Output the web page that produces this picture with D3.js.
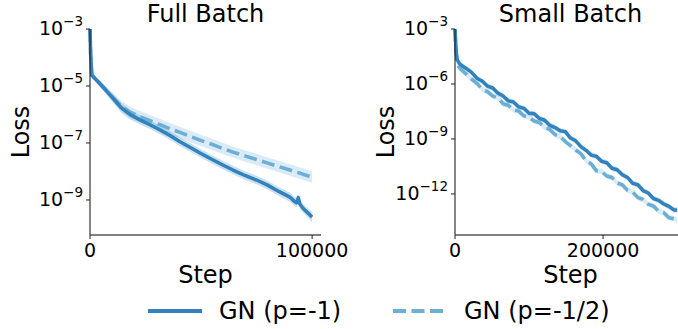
<!DOCTYPE html>
<html>
<head>
<meta charset="utf-8">
<script src="https://cdn.jsdelivr.net/npm/d3@7"></script>
<style>
  body { margin: 0; background: #fff; }
  text { font-family: "DejaVu Sans", sans-serif; fill: #000; }
</style>
</head>
<body>
<svg id="chart" width="678" height="329"></svg>
<script>
// ---- data (loss stored as log10) ----
var fullSteps = [0, 300, 800, 3000, 6000, 10000, 14000, 18000, 22500, 27000, 31500, 36000, 40500, 45000,
  49500, 55000, 60000, 64400, 70000, 75000, 79700, 85000, 90000, 92000, 93000, 93800, 94500, 96000, 98000, 100000];
var fullGN1 = [-3.0, -3.9, -4.62, -4.8, -5.05, -5.4, -5.76, -6.0, -6.19, -6.36, -6.54, -6.74, -6.96, -7.15,
  -7.35, -7.58, -7.78, -7.95, -8.15, -8.3, -8.47, -8.7, -8.9, -9.05, -9.1, -8.92, -9.15, -9.3, -9.45, -9.6];
var fullGN1Spread = [0.05, 0.1, 0.1, 0.1, 0.12, 0.15, 0.17, 0.17, 0.16, 0.15, 0.15, 0.15, 0.15, 0.15,
  0.15, 0.15, 0.15, 0.15, 0.15, 0.15, 0.15, 0.15, 0.16, 0.16, 0.16, 0.16, 0.16, 0.16, 0.17, 0.18];
var fullGNHalf = [-3.0, -3.9, -4.62, -4.8, -5.05, -5.38, -5.7, -5.92, -6.08, -6.22, -6.36, -6.5, -6.63, -6.77,
  -6.9, -7.05, -7.2, -7.32, -7.46, -7.58, -7.7, -7.83, -7.95, -8.0, -8.02, -8.04, -8.06, -8.1, -8.15, -8.2];
var fullGNHalfSpread = [0.05, 0.1, 0.1, 0.1, 0.12, 0.15, 0.18, 0.2, 0.2, 0.2, 0.2, 0.2, 0.2, 0.2,
  0.2, 0.2, 0.2, 0.2, 0.2, 0.2, 0.2, 0.2, 0.2, 0.2, 0.2, 0.2, 0.2, 0.2, 0.2, 0.2];

var smallSteps = [0, 1500, 3000, 6000, 10000, 15000, 22000, 30000, 37000, 44000, 51000, 58000, 65000, 72000,
  79000, 86000, 93000, 100000, 107000, 114000, 121000, 128000, 135000, 142000, 149000, 156000, 163000, 170000,
  177000, 184000, 191000, 198000, 205000, 212000, 219000, 226000, 233000, 240000, 247000, 254000, 261000,
  268000, 275000, 282000, 289000, 296000, 300000];
var smallGN1 = [-3.0, -4.2, -4.68, -4.88, -5.02, -5.15, -5.35, -5.7, -5.85, -6.12, -6.22, -6.5, -6.66, -6.92,
  -6.98, -7.25, -7.33, -7.6, -7.62, -7.88, -7.98, -8.25, -8.38, -8.55, -8.6, -8.95, -9.1, -9.42,
  -9.62, -9.88, -9.95, -10.22, -10.3, -10.6, -10.68, -10.95, -11.1, -11.42, -11.5, -11.82, -11.95,
  -12.25, -12.35, -12.55, -12.68, -12.88, -12.87];
var smallGNHalf = [-3.0, -4.35, -4.95, -5.12, -5.28, -5.45, -5.72, -5.98, -6.3, -6.42, -6.66, -6.76, -7.08, -7.16,
  -7.42, -7.48, -7.74, -7.82, -8.02, -8.1, -8.36, -8.48, -8.76, -8.86, -9.14, -9.36, -9.6, -9.8,
  -10.2, -10.36, -10.74, -10.78, -11.02, -11.1, -11.4, -11.5, -11.8, -11.9, -12.2, -12.3, -12.56,
  -12.66, -12.94, -13.02, -13.3, -13.36, -13.45];
var smallSpread = 0.15;

var fullTicksY = [-3, -5, -7, -9];
var smallTicksY = [-3, -6, -9, -12];
var fullTicksX = [0, 100000];
var smallTicksX = [0, 200000];
var legendLabels = ["GN (p=-1)", "GN (p=-1/2)"];

var colorGN1 = "#3182bd";
var colorGNHalf = "#6baed6";

var svg = d3.select("#chart");

function drawPanel(opt) {
  var x = d3.scaleLinear().domain([0, opt.xMax]).range([opt.left, opt.left + 231]);
  var y = d3.scaleLinear().domain([opt.yMin, -3]).range([235, 29]);
  var g = svg.append("g");

  // bands
  opt.series.forEach(function(s) {
    var pts = opt.steps.map(function(d, i) { return [d, s.values[i], s.spread[i]]; });
    g.append("path")
      .datum(pts)
      .attr("fill", s.color)
      .attr("fill-opacity", 0.25)
      .attr("d", d3.area()
        .x(function(d) { return x(d[0]); })
        .y0(function(d) { return y(d[1] - d[2]); })
        .y1(function(d) { return y(Math.min(-3, d[1] + d[2])); }));
  });
  // lines
  opt.series.forEach(function(s) {
    var pts = opt.steps.map(function(d, i) { return [d, s.values[i]]; });
    g.append("path")
      .datum(pts)
      .attr("fill", "none")
      .attr("stroke", s.color)
      .attr("stroke-width", 3.5)
      .attr("stroke-dasharray", s.dash)
      .attr("stroke-linejoin", "round")
      .attr("d", d3.line().x(function(d) { return x(d[0]); }).y(function(d) { return y(d[1]); }));
  });

  // spines
  g.append("line").attr("x1", opt.left).attr("x2", opt.left).attr("y1", 29).attr("y2", 235)
    .attr("stroke", "#222").attr("stroke-width", 1.1);
  g.append("line").attr("x1", opt.left).attr("x2", opt.left + 231).attr("y1", 235).attr("y2", 235)
    .attr("stroke", "#555").attr("stroke-width", 1.6);

  // y ticks
  opt.yTicks.forEach(function(t) {
    g.append("line").attr("x1", opt.left - 4).attr("x2", opt.left).attr("y1", y(t)).attr("y2", y(t))
      .attr("stroke", "#222").attr("stroke-width", 1);
    var lab = g.append("text").attr("x", opt.left - 7).attr("y", y(t) + 6)
      .attr("text-anchor", "end").style("font-size", "19px");
    lab.append("tspan").text("10");
    lab.append("tspan").attr("dy", -9).style("font-size", "13.5px").text("\u2212" + (-t));
  });
  // x ticks
  opt.xTicks.forEach(function(t) {
    g.append("line").attr("x1", x(t)).attr("x2", x(t)).attr("y1", 235).attr("y2", 239)
      .attr("stroke", "#222").attr("stroke-width", 1);
    g.append("text").attr("x", x(t)).attr("y", 257).attr("text-anchor", "middle")
      .style("font-size", "19px").text(t);
  });

  g.append("text").attr("x", opt.left + 115.5).attr("y", 22).attr("text-anchor", "middle")
    .style("font-size", "24px").text(opt.title);
  g.append("text").attr("x", opt.left + 115.5).attr("y", 283).attr("text-anchor", "middle")
    .style("font-size", "24px").text("Step");
  g.append("text").attr("transform", "translate(" + (opt.left - 61) + ",132) rotate(-90)")
    .attr("text-anchor", "middle").style("font-size", "24px").text("Loss");
}

drawPanel({
  left: 90, xMax: 104000, yMin: -10.23, title: "Full Batch", steps: fullSteps,
  yTicks: fullTicksY, xTicks: fullTicksX,
  series: [
    { values: fullGNHalf, spread: fullGNHalfSpread, color: colorGNHalf, dash: "13,5.5" },
    { values: fullGN1, spread: fullGN1Spread, color: colorGN1, dash: null }
  ]
});

drawPanel({
  left: 455, xMax: 312000, yMin: -14.24, title: "Small Batch", steps: smallSteps,
  yTicks: smallTicksY, xTicks: smallTicksX,
  series: [
    { values: smallGNHalf, spread: smallSteps.map(function() { return smallSpread; }), color: colorGNHalf, dash: "13,5.5" },
    { values: smallGN1, spread: smallSteps.map(function() { return smallSpread; }), color: colorGN1, dash: null }
  ]
});

// legend
var leg = svg.append("g");
var legItems = [
  { label: legendLabels[0], color: colorGN1, dash: null, x: 148 },
  { label: legendLabels[1], color: colorGNHalf, dash: "13,5.5", x: 393 }
];
legItems.forEach(function(d) {
  leg.append("line").attr("x1", d.x).attr("x2", d.x + 54).attr("y1", 311).attr("y2", 311)
    .attr("stroke", d.color).attr("stroke-width", 3.8).attr("stroke-dasharray", d.dash);
  leg.append("text").attr("x", d.x + 71).attr("y", 319).style("font-size", "24px").text(d.label);
});
</script>
</body>
</html>
